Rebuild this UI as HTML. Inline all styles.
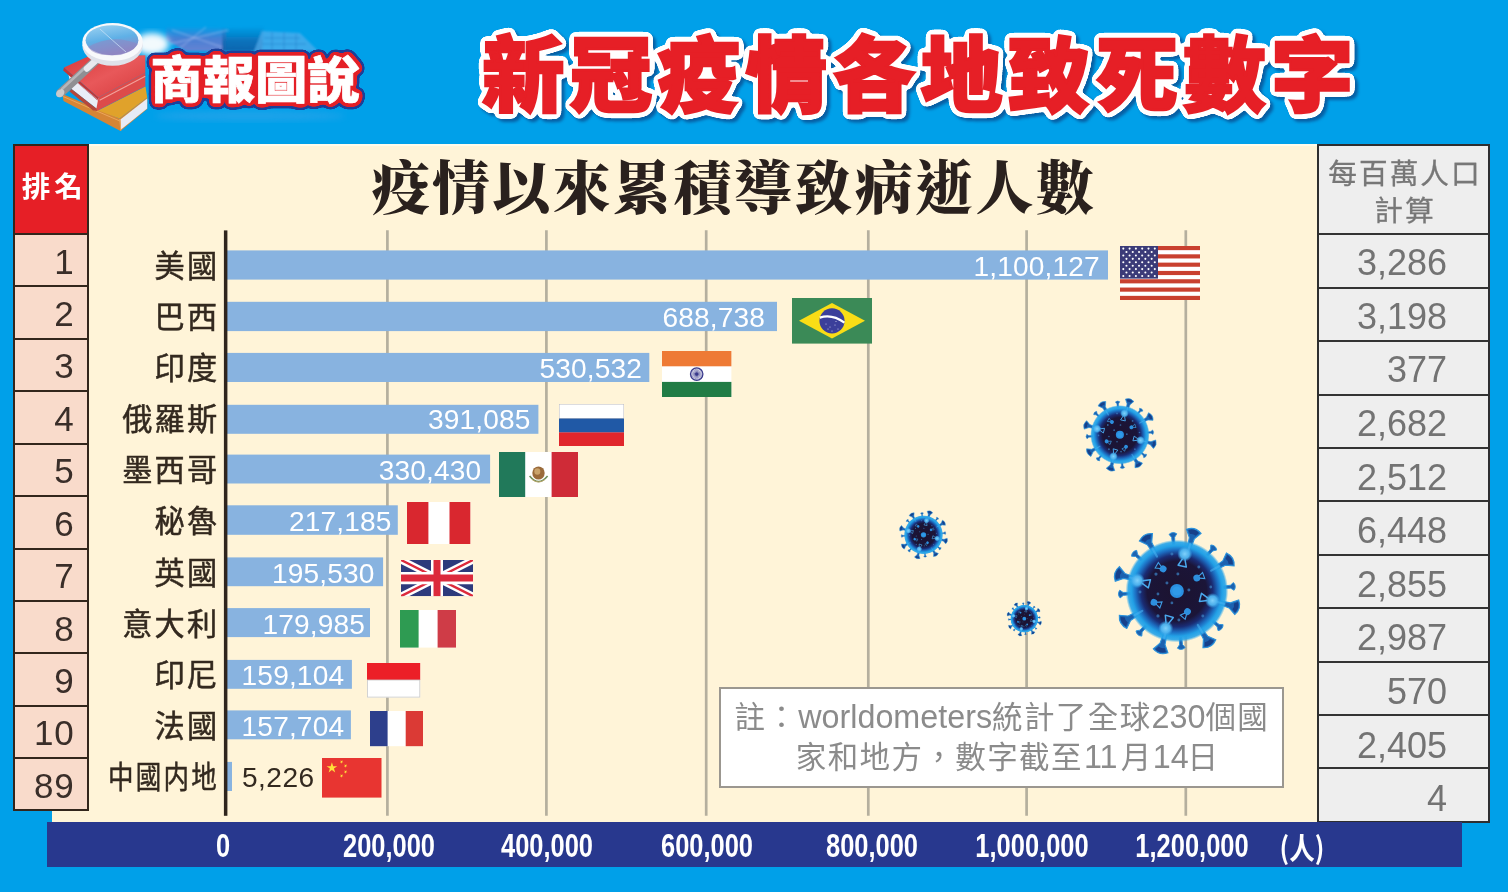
<!DOCTYPE html>
<html lang="zh-Hant">
<head>
<meta charset="utf-8">
<title>新冠疫情各地致死數字</title>
<style>
html,body{margin:0;padding:0}
body{width:1508px;height:892px;background:#00a0e9;position:relative;overflow:hidden;
 font-family:"Liberation Sans","Noto Sans CJK TC",sans-serif;}
.abs{position:absolute}
#panel{position:absolute;left:52px;top:144px;width:1266px;height:678.4px;background:#fff4d8}
#panel:before{content:"";position:absolute;left:0;top:0;right:0;height:2px;background:#fffbea}
#axisbar{position:absolute;left:47px;top:822.4px;width:1415px;height:44.2px;background:#28388e}
.tick{position:absolute;top:829px;width:200px;margin-left:-100px;text-align:center;color:#fff;
 font-weight:bold;font-size:33.5px;line-height:34px;transform:scaleX(.76);transform-origin:50% 50%;white-space:nowrap}
.val{position:absolute;color:#fff;font-size:28.1px;line-height:29px;height:29px;text-align:right;white-space:nowrap;letter-spacing:.15px}
.name{position:absolute;left:90px;width:129.4px;text-align:right;color:#33291f;font-size:30.2px;line-height:30px;height:30px;
 white-space:nowrap;font-family:"Noto Sans CJK TC","Liberation Sans",sans-serif;font-weight:400;letter-spacing:2.2px;-webkit-text-stroke:.5px #33291f}
/* rank column */
#rank{position:absolute;left:13.3px;top:144px;width:75.4px;height:666.8px;background:#f9dbcb;box-sizing:border-box;border:2px solid #33261c}
#rankhead{position:absolute;left:0;top:0;right:0;height:88.5px;background:#e61f26}
#rankhead span{position:absolute;left:-10px;right:-16.5px;top:24.3px;text-align:center;white-space:nowrap;color:#fff;font-weight:700;font-size:28.5px;line-height:30px;
 font-family:"Noto Sans CJK TC","Liberation Sans",sans-serif;letter-spacing:4px}
.rline{position:absolute;left:0;right:0;height:2px;background:#33261c}
.rnum{position:absolute;left:0;width:59.3px;text-align:right;color:#3a2e29;font-size:35px;line-height:36px;height:36px;letter-spacing:.8px}
/* per million column */
#pm{position:absolute;left:1317px;top:143.5px;width:173px;height:679.2px;background:#eeeeee;box-sizing:border-box;border:2px solid #2e2e30}
#pmhead{position:absolute;left:3px;right:0;top:7.2px;text-align:center;color:#777;font-size:28.7px;letter-spacing:2px;line-height:37.6px;
 font-family:"Noto Sans CJK TC","Liberation Sans",sans-serif;font-weight:400;-webkit-text-stroke:.3px #777}
.pline{position:absolute;left:0;right:0;height:2px;background:#333}
.pnum{position:absolute;left:0;width:128px;text-align:right;color:#737373;font-size:36px;line-height:36px;height:36px}
#subtitle{position:absolute;left:371.5px;top:142px;width:730px;white-space:nowrap;color:#2a211e;
 font-family:"Noto Serif CJK SC","Liberation Serif",serif;font-weight:900;font-size:58px;line-height:84px;letter-spacing:2.4px}
#note{position:absolute;left:718.5px;top:686.5px;width:565.7px;height:101.2px;box-sizing:border-box;border:2.2px solid #9b9790;background:#fff;
 color:#8b8b8b;font-size:30.5px;letter-spacing:1.4px;line-height:39px;white-space:nowrap;font-family:"Noto Sans CJK TC","Liberation Sans",sans-serif}
#note div{position:absolute;left:13.9px}
#note b{font-weight:400;font-family:"Liberation Sans",sans-serif;font-size:32.3px;letter-spacing:0}
svg{position:absolute;overflow:visible}
</style>
</head>
<body>
<svg id="hdr" width="1508" height="144" viewBox="0 0 1508 144" style="left:0;top:0">
<defs>
<filter id="tsh" x="-5%" y="-20%" width="110%" height="150%"><feGaussianBlur stdDeviation="1.8"/></filter>
<filter id="soft" x="-20%" y="-20%" width="140%" height="140%"><feGaussianBlur stdDeviation="3"/></filter>
<filter id="soft1" x="-20%" y="-20%" width="140%" height="140%"><feGaussianBlur stdDeviation="1.2"/></filter>
<linearGradient id="lens" x1="0" y1="0" x2="0.3" y2="1"><stop offset="0" stop-color="#9fd4f2"/><stop offset=".55" stop-color="#5fb0e6"/><stop offset="1" stop-color="#8d86c4"/></linearGradient>
<linearGradient id="redbk" x1="0" y1="0" x2="1" y2="1"><stop offset="0" stop-color="#d8393a"/><stop offset=".5" stop-color="#e8585a"/><stop offset="1" stop-color="#d63a3c"/></linearGradient>
<linearGradient id="orbk" x1="0" y1="0" x2="1" y2="0"><stop offset="0" stop-color="#d98a3a"/><stop offset="1" stop-color="#e8a030"/></linearGradient>
<linearGradient id="bld" x1="0" y1="0" x2="0" y2="1"><stop offset="0" stop-color="#5a78d0" stop-opacity=".0"/><stop offset=".5" stop-color="#5f74cc" stop-opacity=".75"/><stop offset="1" stop-color="#7a7fd0" stop-opacity=".85"/></linearGradient>
<linearGradient id="bld2" x1="0" y1="0" x2="0" y2="1"><stop offset="0" stop-color="#0a6fb8" stop-opacity="0"/><stop offset=".6" stop-color="#0b67b0" stop-opacity=".8"/><stop offset="1" stop-color="#0b5ea8" stop-opacity=".9"/></linearGradient>
<filter id="ttl" x="-3%" y="-25%" width="106%" height="150%" color-interpolation-filters="sRGB">
<feGaussianBlur in="SourceAlpha" stdDeviation="2.5" result="b2"/>
<feComponentTransfer in="b2" result="out"><feFuncA type="table" tableValues="0 0 1 1 1 1 1 1 1 1 1 1 1 1 1 1 1 1 1 1 1 1 1 1 1 1 1 1 1 1 1 1 1 1 1 1 1 1 1 1 1 1 1 1 1 1 1 1 1 1 1 1 1 1 1 1 1 1 1 1 1 1 1 1 1 1 1 1 1 1 1 1 1 1 1 1 1 1 1 1 1"/></feComponentTransfer>
<feOffset in="out" dx="3" dy="3.4" result="o3"/>
<feGaussianBlur in="o3" stdDeviation="1.7" result="b3"/>
<feFlood flood-color="#0a4688" flood-opacity=".72" result="c3"/>
<feComposite in="c3" in2="b3" operator="in" result="shadow"/>
<feFlood flood-color="#ffffff" result="c2"/>
<feComposite in="c2" in2="out" operator="in" result="white"/>
<feMerge><feMergeNode in="shadow"/><feMergeNode in="white"/><feMergeNode in="SourceGraphic"/></feMerge>
</filter>
<filter id="lgo" x="-6%" y="-30%" width="112%" height="160%" color-interpolation-filters="sRGB">
<feGaussianBlur in="SourceAlpha" stdDeviation="1.9" result="b1"/>
<feComponentTransfer in="b1" result="o1"><feFuncA type="table" tableValues="0 0 1 1 1 1 1 1 1 1 1 1 1 1 1 1 1 1 1 1 1 1 1 1 1 1 1 1 1 1 1 1 1 1 1 1 1 1 1 1 1"/></feComponentTransfer>
<feGaussianBlur in="o1" stdDeviation="1.7" result="b2"/>
<feComponentTransfer in="b2" result="o2"><feFuncA type="table" tableValues="0 0 1 1 1 1 1 1 1 1 1 1 1 1 1 1 1 1 1 1 1 1 1 1 1 1 1 1 1 1 1 1 1 1 1 1 1 1 1 1 1"/></feComponentTransfer>
<feFlood flood-color="#1c3f99" result="c2"/>
<feComposite in="c2" in2="o2" operator="in" result="blue"/>
<feFlood flood-color="#e41f26" result="c1"/>
<feComposite in="c1" in2="o1" operator="in" result="red"/>
<feMerge><feMergeNode in="blue"/><feMergeNode in="red"/><feMergeNode in="SourceGraphic"/></feMerge>
</filter>
</defs>
<g filter="url(#soft1)"><polygon points="166,26 226,28 226,51 186,51 166,40" fill="url(#bld)"/><polygon points="222,28 264,26 262,51 222,51" fill="url(#bld2)"/><polygon points="254,51 262,31 300,33 318,51" fill="#55aeec" opacity=".7"/><path d="M262 44 H306 M264 38 H300 M272 32 V50 M284 32 V50 M296 34 V50" stroke="#1f7fc8" stroke-width="1" opacity=".6" fill="none"/><path d="M170 44 L228 30 M172 30 L222 47 M180 48 L206 27" stroke="#b9c4f2" stroke-width="1" opacity=".55" fill="none"/></g>
<ellipse cx="152" cy="44" rx="17" ry="11" fill="#ffffff" opacity=".95" filter="url(#soft)"/>
<ellipse cx="250" cy="116" rx="95" ry="5" fill="#3aa5ea" opacity=".5" filter="url(#soft)"/>
<g><polygon points="62.5,94 119.5,118.5 147.2,97.5 147.2,109 120.5,131 63.5,101" fill="#d58535"/><polygon points="98,110.5 145.5,86.5 147.2,97.5 119.5,118.5" fill="#e0a22b"/><polygon points="120.4,119.6 147.2,98.6 147.2,108.6 121,129.6" fill="#e6ebf5"/><path d="M63 96.5 L119.8 121 M119.8 119 L120.8 130.6" stroke="#eaa75a" stroke-width="1" fill="none"/><polygon points="64,67.5 88,56.5 145.3,55.2 145.3,72.7 98.3,97.5" fill="url(#redbk)"/><polygon points="98.3,97.5 145.3,72.7 145.3,86.2 97.2,110.8 94.5,104" fill="#dd4b4a"/><path d="M99.6 100.2 L145.3 76.2" stroke="#f3a19b" stroke-width="1.1"/><polygon points="68.5,74.5 98.3,98.6 96.4,108.6 71.5,89" fill="#e9eef7"/><polygon points="64,67.5 98.3,97.5 97.6,100.4 63.2,70.5" fill="#c23636"/><polygon points="71.5,89 96.4,108.6 97.2,111 93,110.4 69.5,91.6" fill="#b5473a"/><path d="M73 79 L97.6 99.6" stroke="#b9c6e2" stroke-width=".8" opacity=".8"/><path d="M97 59.5 L60.5 93" stroke="#8f9094" stroke-width="8.6" stroke-linecap="round"/><path d="M95.5 58 L62 89" stroke="#b5b6ba" stroke-width="2.4" stroke-linecap="round"/><path d="M97.5 59 L87 68.5" stroke="#e8e9ee" stroke-width="6.4" stroke-linecap="round"/><ellipse cx="60.2" cy="93.2" rx="4.6" ry="3.6" fill="#c9cacd" transform="rotate(-42 60.2 93.2)"/><ellipse cx="112.6" cy="45.2" rx="30.3" ry="20.6" fill="#dfe2ea"/><ellipse cx="112.6" cy="42" rx="30.3" ry="19" fill="#f8f9fb"/><ellipse cx="112" cy="40.2" rx="26.4" ry="15" fill="url(#lens)"/><path d="M88 47 Q112 33 138 44 Q130 56 112 55.2 Q94 56 88 47 Z" fill="#8f86c2" opacity=".55"/><path d="M100 29 Q112 40 126 52" stroke="#cfe6f8" stroke-width="1" fill="none" opacity=".7"/></g>
<text x="150.4" y="98" textLength="209" lengthAdjust="spacingAndGlyphs" style="font-family:'Noto Sans CJK TC','Liberation Sans',sans-serif;font-weight:900;font-size:50px" fill="#ffffff" stroke="#ffffff" stroke-width=".7" filter="url(#lgo)">商報圖說</text>
<text x="482.3" y="105" textLength="871" lengthAdjust="spacing" style="font-family:'Noto Sans CJK TC','Liberation Sans',sans-serif;font-weight:900;font-size:82px" fill="#e61f26" stroke="#e61f26" stroke-width="2.6" stroke-linejoin="miter" stroke-miterlimit="3" filter="url(#ttl)">新冠疫情各地致死數字</text>
</svg>
<div id="panel"></div>
<div id="subtitle">疫情以來累積導致病逝人數</div>
<svg id="chart" width="1508" height="892" viewBox="0 0 1508 892" style="left:0;top:0"><line x1="387.4" y1="230.2" x2="387.4" y2="815.8" stroke="#b5af9e" stroke-width="2.7"/><line x1="546.4" y1="230.2" x2="546.4" y2="815.8" stroke="#b5af9e" stroke-width="2.7"/><line x1="706.2" y1="230.2" x2="706.2" y2="815.8" stroke="#b5af9e" stroke-width="2.7"/><line x1="868.3" y1="230.2" x2="868.3" y2="815.8" stroke="#b5af9e" stroke-width="2.7"/><line x1="1026.6" y1="230.2" x2="1026.6" y2="815.8" stroke="#b5af9e" stroke-width="2.7"/><line x1="1185.8" y1="230.2" x2="1185.8" y2="815.8" stroke="#b5af9e" stroke-width="2.7"/><rect x="227" y="250.4" width="881.0" height="29.2" fill="#88b3e0"/><rect x="227" y="301.8" width="550.0" height="29.3" fill="#88b3e0"/><rect x="227" y="352.9" width="422.3" height="29.1" fill="#88b3e0"/><rect x="227" y="404.8" width="311.4" height="29.0" fill="#88b3e0"/><rect x="227" y="454.6" width="263.1" height="28.9" fill="#88b3e0"/><rect x="227" y="505.3" width="170.8" height="29.5" fill="#88b3e0"/><rect x="227" y="557.4" width="156.1" height="28.8" fill="#88b3e0"/><rect x="227" y="608.1" width="143.0" height="29.0" fill="#88b3e0"/><rect x="227" y="659.9" width="124.9" height="28.9" fill="#88b3e0"/><rect x="227" y="710.4" width="123.9" height="28.9" fill="#88b3e0"/><rect x="227" y="761.9" width="5.0" height="29.1" fill="#88b3e0"/><rect x="223.9" y="230.4" width="3.5" height="585.4" fill="#2f251d"/></svg>
<div class="name" style="top:249.1px">美國</div>
<div class="val" style="top:252.4px;left:899.8px;width:200px">1,100,127</div>
<div class="name" style="top:300.2px">巴西</div>
<div class="val" style="top:303.0px;left:565.0px;width:200px">688,738</div>
<div class="name" style="top:351.2px">印度</div>
<div class="val" style="top:354.2px;left:442.0px;width:200px">530,532</div>
<div class="name" style="top:402.3px">俄羅斯</div>
<div class="val" style="top:405.1px;left:330.5px;width:200px">391,085</div>
<div class="name" style="top:453.4px">墨西哥</div>
<div class="val" style="top:455.6px;left:281.3px;width:200px">330,430</div>
<div class="name" style="top:504.4px">秘魯</div>
<div class="val" style="top:507.0px;left:191.5px;width:200px">217,185</div>
<div class="name" style="top:555.5px">英國</div>
<div class="val" style="top:558.6px;left:174.6px;width:200px">195,530</div>
<div class="name" style="top:606.6px">意大利</div>
<div class="val" style="top:609.8px;left:165.0px;width:200px">179,985</div>
<div class="name" style="top:657.7px">印尼</div>
<div class="val" style="top:661.0px;left:144.2px;width:200px">159,104</div>
<div class="name" style="top:708.7px">法國</div>
<div class="val" style="top:712.1px;left:144.2px;width:200px">157,704</div>
<div class="name" style="top:759.8px;transform:scaleX(.845);transform-origin:100% 50%;letter-spacing:2.6px;left:88.2px">中國内地</div>
<div class="val" style="top:763.3px;left:242px;color:#33291f;text-align:left;letter-spacing:.45px">5,226</div>
<svg width="80.0" height="54.0" viewBox="0 0 80 54" preserveAspectRatio="none" style="left:1120.0px;top:246.3px"><rect width="80" height="54" fill="#fff"/><rect y="0.00" width="80" height="4.15" fill="#c9402f"/><rect y="8.31" width="80" height="4.15" fill="#c9402f"/><rect y="16.62" width="80" height="4.15" fill="#c9402f"/><rect y="24.92" width="80" height="4.15" fill="#c9402f"/><rect y="33.23" width="80" height="4.15" fill="#c9402f"/><rect y="41.54" width="80" height="4.15" fill="#c9402f"/><rect y="49.85" width="80" height="4.15" fill="#c9402f"/><rect width="38" height="32.6" fill="#3b3b78"/><circle cx="3.30" cy="2.60" r="1.05" fill="#fff"/><circle cx="9.60" cy="2.60" r="1.05" fill="#fff"/><circle cx="15.90" cy="2.60" r="1.05" fill="#fff"/><circle cx="22.20" cy="2.60" r="1.05" fill="#fff"/><circle cx="28.50" cy="2.60" r="1.05" fill="#fff"/><circle cx="34.80" cy="2.60" r="1.05" fill="#fff"/><circle cx="6.45" cy="6.02" r="1.05" fill="#fff"/><circle cx="12.75" cy="6.02" r="1.05" fill="#fff"/><circle cx="19.05" cy="6.02" r="1.05" fill="#fff"/><circle cx="25.35" cy="6.02" r="1.05" fill="#fff"/><circle cx="31.65" cy="6.02" r="1.05" fill="#fff"/><circle cx="3.30" cy="9.44" r="1.05" fill="#fff"/><circle cx="9.60" cy="9.44" r="1.05" fill="#fff"/><circle cx="15.90" cy="9.44" r="1.05" fill="#fff"/><circle cx="22.20" cy="9.44" r="1.05" fill="#fff"/><circle cx="28.50" cy="9.44" r="1.05" fill="#fff"/><circle cx="34.80" cy="9.44" r="1.05" fill="#fff"/><circle cx="6.45" cy="12.86" r="1.05" fill="#fff"/><circle cx="12.75" cy="12.86" r="1.05" fill="#fff"/><circle cx="19.05" cy="12.86" r="1.05" fill="#fff"/><circle cx="25.35" cy="12.86" r="1.05" fill="#fff"/><circle cx="31.65" cy="12.86" r="1.05" fill="#fff"/><circle cx="3.30" cy="16.28" r="1.05" fill="#fff"/><circle cx="9.60" cy="16.28" r="1.05" fill="#fff"/><circle cx="15.90" cy="16.28" r="1.05" fill="#fff"/><circle cx="22.20" cy="16.28" r="1.05" fill="#fff"/><circle cx="28.50" cy="16.28" r="1.05" fill="#fff"/><circle cx="34.80" cy="16.28" r="1.05" fill="#fff"/><circle cx="6.45" cy="19.70" r="1.05" fill="#fff"/><circle cx="12.75" cy="19.70" r="1.05" fill="#fff"/><circle cx="19.05" cy="19.70" r="1.05" fill="#fff"/><circle cx="25.35" cy="19.70" r="1.05" fill="#fff"/><circle cx="31.65" cy="19.70" r="1.05" fill="#fff"/><circle cx="3.30" cy="23.12" r="1.05" fill="#fff"/><circle cx="9.60" cy="23.12" r="1.05" fill="#fff"/><circle cx="15.90" cy="23.12" r="1.05" fill="#fff"/><circle cx="22.20" cy="23.12" r="1.05" fill="#fff"/><circle cx="28.50" cy="23.12" r="1.05" fill="#fff"/><circle cx="34.80" cy="23.12" r="1.05" fill="#fff"/><circle cx="6.45" cy="26.54" r="1.05" fill="#fff"/><circle cx="12.75" cy="26.54" r="1.05" fill="#fff"/><circle cx="19.05" cy="26.54" r="1.05" fill="#fff"/><circle cx="25.35" cy="26.54" r="1.05" fill="#fff"/><circle cx="31.65" cy="26.54" r="1.05" fill="#fff"/><circle cx="3.30" cy="29.96" r="1.05" fill="#fff"/><circle cx="9.60" cy="29.96" r="1.05" fill="#fff"/><circle cx="15.90" cy="29.96" r="1.05" fill="#fff"/><circle cx="22.20" cy="29.96" r="1.05" fill="#fff"/><circle cx="28.50" cy="29.96" r="1.05" fill="#fff"/><circle cx="34.80" cy="29.96" r="1.05" fill="#fff"/></svg>
<svg width="80.0" height="45.6" viewBox="0 0 80 45.6" preserveAspectRatio="none" style="left:792.2px;top:297.6px"><rect width="80" height="45.6" fill="#3b8a57"/><polygon points="7,22.8 40,5 73,22.8 40,40.6" fill="#f9dd16"/><circle cx="40" cy="22.8" r="12.6" fill="#3b3f9a"/><path d="M27.8 19.6 Q40 15.5 52.4 24.6" stroke="#fff" stroke-width="2.2" fill="none"/><circle cx="34" cy="26" r=".55" fill="#cfd3f0"/><circle cx="38" cy="29" r=".55" fill="#cfd3f0"/><circle cx="43" cy="27" r=".55" fill="#cfd3f0"/><circle cx="46" cy="31" r=".55" fill="#cfd3f0"/><circle cx="40" cy="33" r=".55" fill="#cfd3f0"/><circle cx="36" cy="31" r=".55" fill="#cfd3f0"/><circle cx="44" cy="23.5" r=".55" fill="#cfd3f0"/></svg>
<svg width="69.4" height="46.0" viewBox="0 0 69.4 46" preserveAspectRatio="none" style="left:661.6px;top:350.5px"><rect width="69.4" height="46" fill="#fff"/><rect width="69.4" height="15.3" fill="#ee7a35"/><rect y="30.9" width="69.4" height="15.1" fill="#217c45"/><circle cx="34.7" cy="23.1" r="6.2" fill="#fff" stroke="#3a3a8c" stroke-width="1.3"/><circle cx="34.7" cy="23.1" r="1.6" fill="#3a3a8c"/><line x1="28.90" y1="23.10" x2="40.50" y2="23.10" stroke="#3a3a8c" stroke-width=".5"/><line x1="29.10" y1="21.60" x2="40.30" y2="24.60" stroke="#3a3a8c" stroke-width=".5"/><line x1="29.68" y1="20.20" x2="39.72" y2="26.00" stroke="#3a3a8c" stroke-width=".5"/><line x1="30.60" y1="19.00" x2="38.80" y2="27.20" stroke="#3a3a8c" stroke-width=".5"/><line x1="31.80" y1="18.08" x2="37.60" y2="28.12" stroke="#3a3a8c" stroke-width=".5"/><line x1="33.20" y1="17.50" x2="36.20" y2="28.70" stroke="#3a3a8c" stroke-width=".5"/><line x1="34.70" y1="17.30" x2="34.70" y2="28.90" stroke="#3a3a8c" stroke-width=".5"/><line x1="36.20" y1="17.50" x2="33.20" y2="28.70" stroke="#3a3a8c" stroke-width=".5"/><line x1="37.60" y1="18.08" x2="31.80" y2="28.12" stroke="#3a3a8c" stroke-width=".5"/><line x1="38.80" y1="19.00" x2="30.60" y2="27.20" stroke="#3a3a8c" stroke-width=".5"/><line x1="39.72" y1="20.20" x2="29.68" y2="26.00" stroke="#3a3a8c" stroke-width=".5"/><line x1="40.30" y1="21.60" x2="29.10" y2="24.60" stroke="#3a3a8c" stroke-width=".5"/></svg>
<svg width="65.0" height="42.0" viewBox="0 0 65 42" preserveAspectRatio="none" style="left:559.3px;top:404.3px"><rect width="65" height="42" fill="#fff"/><rect y="14.2" width="65" height="14.4" fill="#2059a6"/><rect y="28.4" width="65" height="13.6" fill="#e0262c"/><rect x=".25" y=".25" width="64.5" height="14" fill="none" stroke="#b9b9c0" stroke-width=".5"/></svg>
<svg width="79.0" height="45.0" viewBox="0 0 79 45" preserveAspectRatio="none" style="left:498.9px;top:452.0px"><rect width="79" height="45" fill="#fff"/><rect width="26.2" height="45" fill="#21795a"/><rect x="52.6" width="26.4" height="45" fill="#cf2b37"/><ellipse cx="39.5" cy="21" rx="6.2" ry="6.6" fill="#9a6a3a"/><ellipse cx="38.3" cy="19.5" rx="3" ry="3.2" fill="#c9a26a"/><path d="M30.6 24 Q39.5 35 48.6 24" stroke="#6f8f5a" stroke-width="1.6" fill="none"/><path d="M33 27.5 Q39.5 32.5 46 27.5" stroke="#b9a56a" stroke-width="1" fill="none"/></svg>
<svg width="63.3" height="42.0" viewBox="0 0 63 42" preserveAspectRatio="none" style="left:406.5px;top:502.4px"><rect width="63" height="42" fill="#fff"/><rect width="21.3" height="42" fill="#d9272f"/><rect x="42.3" width="20.7" height="42" fill="#d9272f"/></svg>
<svg width="72.0" height="36.2" viewBox="0 0 72 36" preserveAspectRatio="none" style="left:401.0px;top:559.9px"><clipPath id="ukc"><rect width="72" height="36"/></clipPath><g clip-path="url(#ukc)"><rect width="72" height="36" fill="#2d3a7c"/><path d="M0 0 L72 36 M72 0 L0 36" stroke="#fff" stroke-width="7.2"/><path d="M0 0 L72 36 M72 0 L0 36" stroke="#dc2a3c" stroke-width="2.4"/><path d="M36 0 V36 M0 18 H72" stroke="#fff" stroke-width="12"/><path d="M36 0 V36 M0 18 H72" stroke="#dc2a3c" stroke-width="7"/></g></svg>
<svg width="56.0" height="37.6" viewBox="0 0 56 37.6" preserveAspectRatio="none" style="left:400.4px;top:610.0px"><rect width="56" height="37.6" fill="#fff"/><rect width="18.6" height="37.6" fill="#2e9b52"/><rect x="37.6" width="18.4" height="37.6" fill="#cf3c47"/></svg>
<svg width="53.2" height="34.5" viewBox="0 0 53 34.5" preserveAspectRatio="none" style="left:366.6px;top:662.7px"><rect width="53" height="34.5" fill="#fff"/><rect width="53" height="17" fill="#ec1f27"/><rect x=".4" y="17" width="52.2" height="17.1" fill="none" stroke="#c9c9c9" stroke-width=".8"/></svg>
<svg width="53.0" height="35.2" viewBox="0 0 53 35" preserveAspectRatio="none" style="left:370.2px;top:710.5px"><rect width="53" height="35" fill="#fff"/><rect width="17.6" height="35" fill="#2d3f8c"/><rect x="35.7" width="17.3" height="35" fill="#db3a35"/></svg>
<svg width="59.5" height="39.6" viewBox="0 0 59.5 39.6" preserveAspectRatio="none" style="left:322.2px;top:757.8px"><rect width="59.5" height="39.6" fill="#e83531"/><polygon points="9.90,4.30 11.16,8.17 15.23,8.17 11.93,10.56 13.19,14.43 9.90,12.04 6.61,14.43 7.87,10.56 4.57,8.17 8.64,8.17" fill="#ffde3a"/><polygon points="20.55,2.15 20.26,3.50 21.46,4.20 20.09,4.34 19.80,5.69 19.24,4.43 17.86,4.57 18.89,3.65 18.33,2.39 19.52,3.08" fill="#ffde3a"/><polygon points="24.55,6.15 24.26,7.50 25.46,8.20 24.09,8.34 23.80,9.69 23.24,8.43 21.86,8.57 22.89,7.65 22.33,6.39 23.52,7.08" fill="#ffde3a"/><polygon points="24.55,12.15 24.26,13.50 25.46,14.20 24.09,14.34 23.80,15.69 23.24,14.43 21.86,14.57 22.89,13.65 22.33,12.39 23.52,13.08" fill="#ffde3a"/><polygon points="20.55,16.15 20.26,17.50 21.46,18.20 20.09,18.34 19.80,19.69 19.24,18.43 17.86,18.57 18.89,17.65 18.33,16.39 19.52,17.08" fill="#ffde3a"/></svg>
<svg width="1508" height="892" viewBox="0 0 1508 892" style="left:0;top:0;pointer-events:none"><defs><radialGradient id="vg" cx="50%" cy="50%" r="50%"><stop offset="0" stop-color="#1c1330"/><stop offset=".58" stop-color="#1b1538"/><stop offset=".7" stop-color="#1a2c74"/><stop offset=".8" stop-color="#1c6cc0"/><stop offset=".88" stop-color="#22a0e6"/><stop offset=".95" stop-color="#25a4ea" stop-opacity=".9"/><stop offset="1" stop-color="#25a4ea" stop-opacity="0"/></radialGradient><radialGradient id="vk" cx="50%" cy="50%" r="50%"><stop offset="0" stop-color="#7fd0fb"/><stop offset=".6" stop-color="#4db4f0" stop-opacity=".95"/><stop offset="1" stop-color="#3aa8ea" stop-opacity="0"/></radialGradient><g id="spk"><path d="M-1.8 -45 L-2.6 -55 L-7.6 -62.2 Q0 -67.5 7.6 -62.2 L2.6 -55 L1.8 -45 Z" fill="#1c62b0" stroke="#2a92dc" stroke-width="1.1"/><path d="M-5.4 -62 Q0 -65.3 5.4 -62 L3 -58.5 Q0 -60 -3 -58.5 Z" fill="#17408a"/></g><g id="spks"><path d="M-1.2 -47 L-1.5 -54 L-3.9 -57.2 Q0 -60.3 3.9 -57.2 L1.5 -54 L1.2 -47 Z" fill="#1c62b0" stroke="#2a92dc" stroke-width=".9"/></g><g id="ink"><circle r="3.4" fill="#2d8fde"/><path d="M-1 2.6 L-3.2 7.4 L3.2 7.4 L1 2.6" fill="none" stroke="#3f9fe8" stroke-width="1.1"/></g><g id="virus"><use href="#spks" transform="rotate(356.0)"/><use href="#spks" transform="rotate(40.3)"/><use href="#spks" transform="rotate(85.4)"/><use href="#spks" transform="rotate(130.0)"/><use href="#spks" transform="rotate(175.6)"/><use href="#spks" transform="rotate(221.8)"/><use href="#spks" transform="rotate(266.9)"/><use href="#spks" transform="rotate(311.4)"/><use href="#spk" transform="rotate(15.8)"/><use href="#spk" transform="rotate(59.4)"/><use href="#spk" transform="rotate(105.2)"/><use href="#spk" transform="rotate(148.4)"/><use href="#spk" transform="rotate(195.2)"/><use href="#spk" transform="rotate(240.2)"/><use href="#spk" transform="rotate(286.0)"/><use href="#spk" transform="rotate(330.0)"/><circle r="51.5" fill="url(#vg)"/><path d="M13.3 -47.1 L10.9 -38.5" stroke="#49b2f2" stroke-width="2.2" stroke-linecap="round" opacity=".55"/><path d="M42.2 -24.9 L34.4 -20.4" stroke="#49b2f2" stroke-width="2.2" stroke-linecap="round" opacity=".55"/><path d="M47.3 12.8 L38.6 10.5" stroke="#49b2f2" stroke-width="2.2" stroke-linecap="round" opacity=".55"/><path d="M25.7 41.7 L21.0 34.1" stroke="#49b2f2" stroke-width="2.2" stroke-linecap="round" opacity=".55"/><path d="M-12.8 47.3 L-10.5 38.6" stroke="#49b2f2" stroke-width="2.2" stroke-linecap="round" opacity=".55"/><path d="M-42.5 24.4 L-34.7 19.9" stroke="#49b2f2" stroke-width="2.2" stroke-linecap="round" opacity=".55"/><path d="M-47.1 -13.5 L-38.5 -11.0" stroke="#49b2f2" stroke-width="2.2" stroke-linecap="round" opacity=".55"/><path d="M-24.5 -42.4 L-20.0 -34.6" stroke="#49b2f2" stroke-width="2.2" stroke-linecap="round" opacity=".55"/><g transform="translate(7.9 -37.2) rotate(12.0)"><path d="M-1.2 5 L-4.2 12.5 L4.2 12.5 L1.2 5" fill="none" stroke="#4aa9ee" stroke-width="1.5" stroke-linejoin="round"/><circle r="7.6" fill="url(#vk)"/></g><g transform="translate(-39.7 -10.4) rotate(284.7)"><path d="M-1.2 5 L-4.2 12.5 L4.2 12.5 L1.2 5" fill="none" stroke="#4aa9ee" stroke-width="1.5" stroke-linejoin="round"/><circle r="7.6" fill="url(#vk)"/></g><g transform="translate(35.7 9.6) rotate(105.0)"><path d="M-1.2 5 L-4.2 12.5 L4.2 12.5 L1.2 5" fill="none" stroke="#4aa9ee" stroke-width="1.5" stroke-linejoin="round"/><circle r="7.6" fill="url(#vk)"/></g><g transform="translate(-11.2 37.4) rotate(196.7)"><path d="M-1.2 5 L-4.2 12.5 L4.2 12.5 L1.2 5" fill="none" stroke="#4aa9ee" stroke-width="1.5" stroke-linejoin="round"/><circle r="7.6" fill="url(#vk)"/></g><circle cx="0" cy="0" r="7" fill="#2a8fe0"/><circle cx="0" cy="0" r="4.6" fill="#2f9ae8"/><use href="#ink" transform="translate(-13.8 -22.2) rotate(120)"/><use href="#ink" transform="translate(19.9 -13) rotate(250)"/><use href="#ink" transform="translate(-23 11.4) rotate(290)"/><use href="#ink" transform="translate(10.6 20.7) rotate(40)"/><circle cx="-21" cy="-17" r="1.6" fill="#3b7fc0" opacity=".75"/><circle cx="1" cy="-17" r="1.5" fill="#3b7fc0" opacity=".75"/><circle cx="22" cy="-24" r="1.5" fill="#3b7fc0" opacity=".75"/><circle cx="-10" cy="-8" r="1.5" fill="#3b7fc0" opacity=".75"/><circle cx="12" cy="-1" r="1.5" fill="#3b7fc0" opacity=".75"/><circle cx="-19" cy="3" r="1.4" fill="#3b7fc0" opacity=".75"/><circle cx="-5" cy="12" r="1.4" fill="#3b7fc0" opacity=".75"/><circle cx="2" cy="29" r="1.5" fill="#3b7fc0" opacity=".75"/><circle cx="26" cy="25" r="1.5" fill="#3b7fc0" opacity=".75"/><circle cx="-19" cy="25" r="1.6" fill="#3b7fc0" opacity=".75"/><circle cx="-37" cy="1" r="1.5" fill="#3b7fc0" opacity=".75"/><circle cx="34" cy="-4" r="1.4" fill="#3b7fc0" opacity=".75"/><circle cx="-5" cy="-37" r="1.5" fill="#3b7fc0" opacity=".75"/></g></defs><use href="#virus" transform="translate(1119.9 434.8) scale(0.5769)"/><use href="#virus" transform="translate(1176.9 591.0) scale(0.9969)"/><use href="#virus" transform="translate(923.5 534.8) scale(0.3815)"/><use href="#virus" transform="translate(1024.3 618.7) scale(0.2738)"/></svg>
<div id="note"><div style="top:7.8px">註：<b>worldometers</b>統計了全球<b>230</b>個國</div><div style="top:47px;left:75.3px">家和地方，數字截至<b style="margin-left:1px;margin-right:3.4px">11</b>月<b style="margin-right:-1.2px">14</b>日</div></div>
<div id="rank"><div id="rankhead"><span>排名</span></div>
<div class="rline" style="top:87.0px"></div><div class="rnum" style="top:97.5px">1</div>
<div class="rline" style="top:139.4px"></div><div class="rnum" style="top:149.9px">2</div>
<div class="rline" style="top:191.8px"></div><div class="rnum" style="top:202.4px">3</div>
<div class="rline" style="top:244.3px"></div><div class="rnum" style="top:254.8px">4</div>
<div class="rline" style="top:296.7px"></div><div class="rnum" style="top:307.2px">5</div>
<div class="rline" style="top:349.1px"></div><div class="rnum" style="top:359.6px">6</div>
<div class="rline" style="top:401.5px"></div><div class="rnum" style="top:412.0px">7</div>
<div class="rline" style="top:453.9px"></div><div class="rnum" style="top:464.5px">8</div>
<div class="rline" style="top:506.4px"></div><div class="rnum" style="top:516.9px">9</div>
<div class="rline" style="top:558.8px"></div><div class="rnum" style="top:569.3px">10</div>
<div class="rline" style="top:611.2px"></div><div class="rnum" style="top:621.7px">89</div>
</div>
<div id="pm"><div id="pmhead">每百萬人口<br>計算</div>
<div class="pline" style="top:87.7px"></div><div class="pnum" style="top:99.7px">3,286</div>
<div class="pline" style="top:141.1px"></div><div class="pnum" style="top:153.3px">3,198</div>
<div class="pline" style="top:194.5px"></div><div class="pnum" style="top:206.9px">377</div>
<div class="pline" style="top:248.0px"></div><div class="pnum" style="top:260.5px">2,682</div>
<div class="pline" style="top:301.4px"></div><div class="pnum" style="top:314.1px">2,512</div>
<div class="pline" style="top:354.8px"></div><div class="pnum" style="top:367.7px">6,448</div>
<div class="pline" style="top:408.2px"></div><div class="pnum" style="top:421.2px">2,855</div>
<div class="pline" style="top:461.6px"></div><div class="pnum" style="top:474.8px">2,987</div>
<div class="pline" style="top:515.1px"></div><div class="pnum" style="top:528.4px">570</div>
<div class="pline" style="top:568.5px"></div><div class="pnum" style="top:582.0px">2,405</div>
<div class="pline" style="top:621.9px"></div><div class="pnum" style="top:635.6px">4</div>
</div>
<div id="axisbar"></div>
<div class="tick" style="left:223.0px">0</div>
<div class="tick" style="left:389.3px">200,000</div>
<div class="tick" style="left:546.7px">400,000</div>
<div class="tick" style="left:707.2px">600,000</div>
<div class="tick" style="left:871.5px">800,000</div>
<div class="tick" style="left:1031.7px">1,000,000</div>
<div class="tick" style="left:1191.7px">1,200,000</div>
<div class="tick" style="left:1302px;font-weight:700;font-size:30px;font-family:'Noto Sans CJK TC','Liberation Sans',sans-serif;transform:scaleX(.85)">(人)</div>
</body>
</html>
